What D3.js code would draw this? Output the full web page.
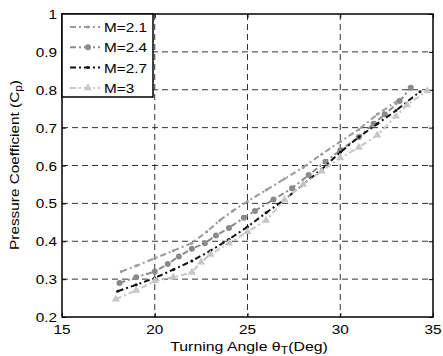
<!DOCTYPE html>
<html>
<head>
<meta charset="utf-8">
<script src="https://cdn.jsdelivr.net/npm/d3@7"></script>
<style>
  body { margin: 0; background: #fff; }
  text { font-family: Arial, "Liberation Sans", sans-serif; font-size: 13px; fill: #000; }
</style>
</head>
<body>
<svg id="chart" width="443" height="356"></svg>
<script>
var xTicks = [15, 20, 25, 30, 35];
var yTicks = [0.2, 0.3, 0.4, 0.5, 0.6, 0.7, 0.8, 0.9, 1];
var seriesNames = ["M=2.1", "M=2.4", "M=2.7", "M=3"];

var angle21 = [18.2, 19, 20, 21, 22, 22.8, 23.5, 24.2, 25, 26, 27, 28, 29, 30, 31, 32, 33.2];
var cp21 = [0.32, 0.335, 0.355, 0.375, 0.395, 0.425, 0.455, 0.48, 0.505, 0.535, 0.565, 0.595, 0.63, 0.663, 0.695, 0.735, 0.775];

var angle24 = [18.1, 19, 20, 20.7, 21.3, 22, 22.7, 23.3, 24, 24.8, 25.4, 26.4, 27.4, 28.3, 29.2, 30, 31, 31.8, 32.4, 33.2, 33.8];
var cp24 = [0.29, 0.305, 0.32, 0.34, 0.36, 0.38, 0.395, 0.415, 0.435, 0.462, 0.48, 0.51, 0.54, 0.575, 0.61, 0.64, 0.675, 0.71, 0.735, 0.77, 0.805];

var angle27 = [18, 19, 20, 21, 22, 23, 24, 25, 26, 27, 28, 29, 30, 31, 32, 33, 34.3];
var cp27 = [0.268, 0.285, 0.303, 0.325, 0.348, 0.375, 0.405, 0.438, 0.475, 0.51, 0.55, 0.59, 0.635, 0.675, 0.71, 0.745, 0.795];

var angle3 = [17.9, 19, 20, 21, 22, 22.5, 23, 24, 25, 26, 27, 28, 29, 30, 31, 32, 33, 33.6, 34.7];
var cp3 = [0.247, 0.27, 0.295, 0.305, 0.318, 0.345, 0.365, 0.395, 0.425, 0.455, 0.51, 0.55, 0.585, 0.62, 0.648, 0.68, 0.73, 0.76, 0.797];

var plotLeft = 62, plotRight = 433, plotTop = 14, plotBottom = 317;
var stretch = 1.18;

var x = d3.scaleLinear().domain([15, 35]).range([plotLeft, plotRight]);
var y = d3.scaleLinear().domain([0.2, 1]).range([plotBottom, plotTop]);

var color = d3.scaleOrdinal().domain(seriesNames)
  .range(["#9a9a9a", "#8a8a8a", "#111111", "#c6c6c6"]);

var svg = d3.select("#chart");

// grid
svg.selectAll(".gx").data(xTicks.slice(1, -1)).enter().append("line")
  .attr("x1", function(d) { return x(d); }).attr("x2", function(d) { return x(d); })
  .attr("y1", plotTop).attr("y2", plotBottom)
  .style("stroke", "#333").style("stroke-width", 1).style("stroke-dasharray", "6,4");
svg.selectAll(".gy").data(yTicks.slice(1, -1)).enter().append("line")
  .attr("y1", function(d) { return y(d); }).attr("y2", function(d) { return y(d); })
  .attr("x1", plotLeft).attr("x2", plotRight)
  .style("stroke", "#333").style("stroke-width", 1).style("stroke-dasharray", "6,4");

// axes, ticks inside on all sides
svg.append("g").attr("transform", "translate(0," + plotBottom + ")")
  .call(d3.axisBottom(x).tickValues(xTicks).tickSize(-4).tickFormat(""));
svg.append("g").attr("transform", "translate(0," + plotTop + ")")
  .call(d3.axisTop(x).tickValues(xTicks).tickSize(-4).tickFormat(""));
svg.append("g").attr("transform", "translate(" + plotLeft + ",0)")
  .call(d3.axisLeft(y).tickValues(yTicks).tickSize(-4).tickFormat(""));
svg.append("g").attr("transform", "translate(" + plotRight + ",0)")
  .call(d3.axisRight(y).tickValues(yTicks).tickSize(-4).tickFormat(""));
svg.selectAll(".domain").remove();
svg.selectAll(".tick line").style("stroke", "#000");

svg.append("rect")
  .attr("x", plotLeft).attr("y", plotTop)
  .attr("width", plotRight - plotLeft).attr("height", plotBottom - plotTop)
  .style("fill", "none").style("stroke", "#000").style("stroke-width", 1.5);

// tick labels
svg.selectAll(".xl").data(xTicks).enter().append("text")
  .attr("transform", function(d) { return "translate(" + x(d) + "," + (plotBottom + 17) + ") scale(" + stretch + ",1)"; })
  .style("text-anchor", "middle")
  .text(function(d) { return d; });
svg.selectAll(".yl").data(yTicks).enter().append("text")
  .attr("transform", function(d) { return "translate(" + (plotLeft - 5) + "," + (y(d) + 5) + ") scale(" + stretch + ",1)"; })
  .style("text-anchor", "end")
  .text(function(d) { return d; });

// axis titles
var xt = svg.append("text")
  .attr("transform", "translate(" + 249 + "," + 351 + ") scale(" + 1.22 + ",1)")
  .style("text-anchor", "middle");
xt.append("tspan").text("Turning Angle \u03b8");
xt.append("tspan").attr("baseline-shift", "-25%").style("font-size", "10px").text("T");
xt.append("tspan").text("(Deg)");

var yt = svg.append("text")
  .attr("transform", "translate(19," + 165 + ") rotate(-90) scale(" + stretch + ",1)")
  .style("text-anchor", "middle");
yt.append("tspan").text("Pressure Coefficient (C");
yt.append("tspan").attr("baseline-shift", "-25%").style("font-size", "10px").text("p");
yt.append("tspan").text(")");

// series
var series = [
  { name: "M=2.1", xs: angle21, ys: cp21, marker: "dot" },
  { name: "M=2.4", xs: angle24, ys: cp24, marker: "circle" },
  { name: "M=2.7", xs: angle27, ys: cp27, marker: "dot" },
  { name: "M=3", xs: angle3, ys: cp3, marker: "triangle" }
];

var line = d3.line()
  .x(function(d) { return x(d[0]); })
  .y(function(d) { return y(d[1]); });

function drawMarker(g, px, py, s) {
  if (s.marker == "circle") {
    g.append("circle").attr("cx", px).attr("cy", py).attr("r", 3)
      .style("fill", color(s.name));
  } else if (s.marker == "triangle") {
    g.append("path")
      .attr("transform", "translate(" + px + "," + py + ")")
      .attr("d", d3.symbol().type(d3.symbolTriangle).size(28)())
      .style("fill", color(s.name));
  } else {
    g.append("circle").attr("cx", px).attr("cy", py).attr("r", 1.5)
      .style("fill", color(s.name));
  }
}

series.forEach(function(s) {
  var pts = s.xs.map(function(v, i) { return [v, s.ys[i]]; });
  var g = svg.append("g").attr("class", "series");
  g.append("path")
    .datum(pts)
    .attr("d", line)
    .style("fill", "none")
    .style("stroke", color(s.name))
    .style("stroke-width", 2)
    .style("stroke-dasharray", "6,3,2,3");
  pts.forEach(function(p) { drawMarker(g, x(p[0]), y(p[1]), s); });
});

// legend
var legend = svg.append("g");
legend.append("rect")
  .attr("x", plotLeft).attr("y", plotTop)
  .attr("width", 91).attr("height", 83)
  .style("fill", "#fff").style("stroke", "#000").style("stroke-width", 1.5);

series.forEach(function(s, i) {
  var ly = 27 + i * 20.3;
  legend.append("line")
    .attr("x1", 70).attr("x2", 100).attr("y1", ly).attr("y2", ly)
    .style("stroke", color(s.name)).style("stroke-width", 2)
    .style("stroke-dasharray", "6,3,2,3");
  drawMarker(legend, 88, ly, s);
  legend.append("text")
    .attr("transform", "translate(104," + (ly + 5) + ") scale(" + stretch + ",1)")
    .text(s.name);
});
</script>
</body>
</html>
